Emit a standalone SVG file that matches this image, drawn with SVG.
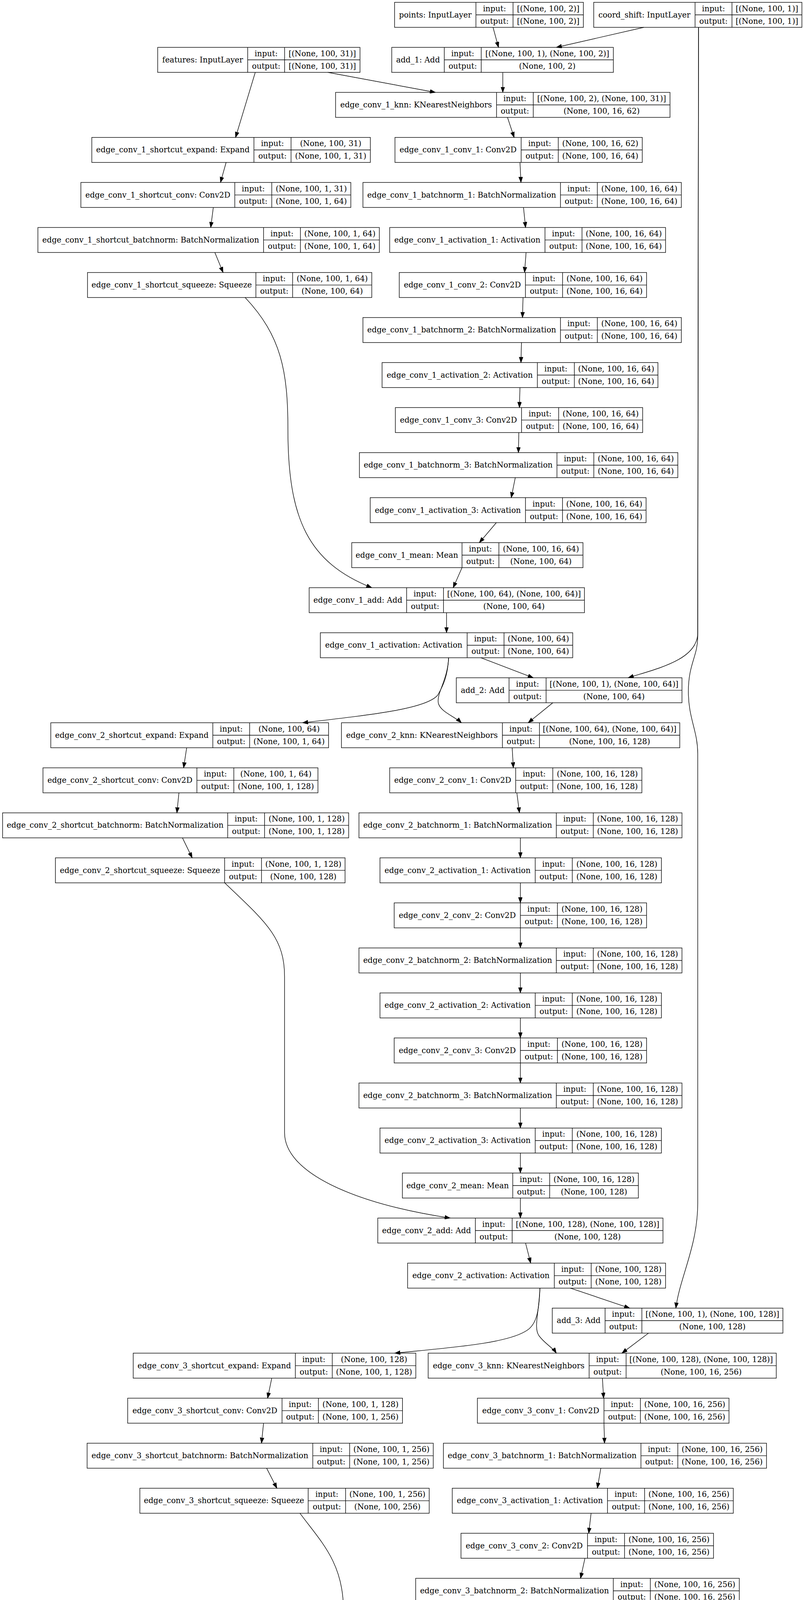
<svg xmlns="http://www.w3.org/2000/svg" width="2058" height="6417" viewBox="0 0 2058 6417">
<style>
.n rect{fill:#fff;stroke:#000;stroke-width:1.4}
.n path{fill:none;stroke:#000;stroke-width:1.4}
text{font-family:"DejaVu Serif",serif;font-size:19.8px;text-anchor:middle;fill:#000}
.e path{fill:none;stroke:#000;stroke-width:1.4;marker-end:url(#ah)}
</style>
<defs>
<marker id="ah" markerUnits="userSpaceOnUse" markerWidth="16" markerHeight="12" refX="14" refY="5" orient="auto"><path d="M0,0L14,5L0,10z" fill="#000" stroke="#000" stroke-width="1"/></marker>
</defs>
<rect width="2058" height="6417" fill="#fff"/>
<g id="nodes">
<g id="points" class="n" transform="translate(0,6)"><rect x="1010" width="483.3" height="64"/><path d="M1218.3,0V64M1313.3,0V64M1218.3,32H1493.3"/><text x="1114.2" y="38.5">points: InputLayer</text><text x="1265.8" y="22.5">input:</text><text x="1265.8" y="54.5">output:</text><text x="1403.3" y="22.5">[(None, 100, 2)]</text><text x="1403.3" y="54.5">[(None, 100, 2)]</text></g>
<g id="coord_shift" class="n" transform="translate(0,6)"><rect x="1519.7" width="532.9" height="64"/><path d="M1779.2,0V64M1873.6,0V64M1779.2,32H2052.6"/><text x="1649.5" y="38.5">coord_shift: InputLayer</text><text x="1826.4" y="22.5">input:</text><text x="1826.4" y="54.5">output:</text><text x="1963.1" y="22.5">[(None, 100, 1)]</text><text x="1963.1" y="54.5">[(None, 100, 1)]</text></g>
<g id="features" class="n" transform="translate(0,121.3)"><rect x="403.6" width="517.9" height="64"/><path d="M634,0V64M728.5,0V64M634,32H921.5"/><text x="518.8" y="38.5">features: InputLayer</text><text x="681.3" y="22.5">input:</text><text x="681.3" y="54.5">output:</text><text x="825" y="22.5">[(None, 100, 31)]</text><text x="825" y="54.5">[(None, 100, 31)]</text></g>
<g id="add_1" class="n" transform="translate(0,121.3)"><rect x="1002.7" width="567.3" height="64"/><path d="M1137.3,0V64M1231.7,0V64M1137.3,32H1570"/><text x="1070" y="38.5">add_1: Add</text><text x="1184.5" y="22.5">input:</text><text x="1184.5" y="54.5">output:</text><text x="1400.9" y="22.5">[(None, 100, 1), (None, 100, 2)]</text><text x="1400.9" y="54.5">(None, 100, 2)</text></g>
<g id="edge_conv_1_knn" class="n" transform="translate(0,236.5)"><rect x="859" width="856" height="64"/><path d="M1271,0V64M1365,0V64M1271,32H1715"/><text x="1065" y="38.5">edge_conv_1_knn: KNearestNeighbors</text><text x="1318" y="22.5">input:</text><text x="1318" y="54.5">output:</text><text x="1540" y="22.5">[(None, 100, 2), (None, 100, 31)]</text><text x="1540" y="54.5">(None, 100, 16, 62)</text></g>
<g id="edge_conv_1_shortcut_expand" class="n" transform="translate(0,351.8)"><rect x="235" width="713" height="64"/><path d="M650,0V64M745,0V64M650,32H948"/><text x="442.5" y="38.5">edge_conv_1_shortcut_expand: Expand</text><text x="697.5" y="22.5">input:</text><text x="697.5" y="54.5">output:</text><text x="846.5" y="22.5">(None, 100, 31)</text><text x="846.5" y="54.5">(None, 100, 1, 31)</text></g>
<g id="edge_conv_1_conv_1" class="n" transform="translate(0,351.8)"><rect x="1011" width="633" height="64"/><path d="M1334,0V64M1429,0V64M1334,32H1644"/><text x="1172.5" y="38.5">edge_conv_1_conv_1: Conv2D</text><text x="1381.5" y="22.5">input:</text><text x="1381.5" y="54.5">output:</text><text x="1536.5" y="22.5">(None, 100, 16, 62)</text><text x="1536.5" y="54.5">(None, 100, 16, 64)</text></g>
<g id="edge_conv_1_shortcut_conv" class="n" transform="translate(0,467.1)"><rect x="207" width="691" height="64"/><path d="M601,0V64M695.6,0V64M601,32H898"/><text x="404" y="38.5">edge_conv_1_shortcut_conv: Conv2D</text><text x="648.3" y="22.5">input:</text><text x="648.3" y="54.5">output:</text><text x="796.8" y="22.5">(None, 100, 1, 31)</text><text x="796.8" y="54.5">(None, 100, 1, 64)</text></g>
<g id="edge_conv_1_batchnorm_1" class="n" transform="translate(0,467.1)"><rect x="929" width="815" height="64"/><path d="M1434.6,0V64M1529,0V64M1434.6,32H1744"/><text x="1181.8" y="38.5">edge_conv_1_batchnorm_1: BatchNormalization</text><text x="1481.8" y="22.5">input:</text><text x="1481.8" y="54.5">output:</text><text x="1636.5" y="22.5">(None, 100, 16, 64)</text><text x="1636.5" y="54.5">(None, 100, 16, 64)</text></g>
<g id="edge_conv_1_shortcut_batchnorm" class="n" transform="translate(0,582.4)"><rect x="97" width="874" height="64"/><path d="M674.6,0V64M769,0V64M674.6,32H971"/><text x="385.8" y="38.5">edge_conv_1_shortcut_batchnorm: BatchNormalization</text><text x="721.8" y="22.5">input:</text><text x="721.8" y="54.5">output:</text><text x="870" y="22.5">(None, 100, 1, 64)</text><text x="870" y="54.5">(None, 100, 1, 64)</text></g>
<g id="edge_conv_1_activation_1" class="n" transform="translate(0,582.4)"><rect x="997.5" width="706.1" height="64"/><path d="M1395,0V64M1489.7,0V64M1395,32H1703.6"/><text x="1196.3" y="38.5">edge_conv_1_activation_1: Activation</text><text x="1442.4" y="22.5">input:</text><text x="1442.4" y="54.5">output:</text><text x="1596.7" y="22.5">(None, 100, 16, 64)</text><text x="1596.7" y="54.5">(None, 100, 16, 64)</text></g>
<g id="edge_conv_1_shortcut_squeeze" class="n" transform="translate(0,697.6)"><rect x="224" width="727.6" height="64"/><path d="M655,0V64M749,0V64M655,32H951.6"/><text x="439.5" y="38.5">edge_conv_1_shortcut_squeeze: Squeeze</text><text x="702" y="22.5">input:</text><text x="702" y="54.5">output:</text><text x="850.3" y="22.5">(None, 100, 1, 64)</text><text x="850.3" y="54.5">(None, 100, 64)</text></g>
<g id="edge_conv_1_conv_2" class="n" transform="translate(0,697.6)"><rect x="1022" width="633" height="64"/><path d="M1345,0V64M1440,0V64M1345,32H1655"/><text x="1183.5" y="38.5">edge_conv_1_conv_2: Conv2D</text><text x="1392.5" y="22.5">input:</text><text x="1392.5" y="54.5">output:</text><text x="1547.5" y="22.5">(None, 100, 16, 64)</text><text x="1547.5" y="54.5">(None, 100, 16, 64)</text></g>
<g id="edge_conv_1_batchnorm_2" class="n" transform="translate(0,812.9)"><rect x="929" width="815" height="64"/><path d="M1434.6,0V64M1529,0V64M1434.6,32H1744"/><text x="1181.8" y="38.5">edge_conv_1_batchnorm_2: BatchNormalization</text><text x="1481.8" y="22.5">input:</text><text x="1481.8" y="54.5">output:</text><text x="1636.5" y="22.5">(None, 100, 16, 64)</text><text x="1636.5" y="54.5">(None, 100, 16, 64)</text></g>
<g id="edge_conv_1_activation_2" class="n" transform="translate(0,928.2)"><rect x="978" width="706.1" height="64"/><path d="M1375.5,0V64M1470.2,0V64M1375.5,32H1684.1"/><text x="1176.8" y="38.5">edge_conv_1_activation_2: Activation</text><text x="1422.9" y="22.5">input:</text><text x="1422.9" y="54.5">output:</text><text x="1577.2" y="22.5">(None, 100, 16, 64)</text><text x="1577.2" y="54.5">(None, 100, 16, 64)</text></g>
<g id="edge_conv_1_conv_3" class="n" transform="translate(0,1043.4)"><rect x="1012" width="633" height="64"/><path d="M1335,0V64M1430,0V64M1335,32H1645"/><text x="1173.5" y="38.5">edge_conv_1_conv_3: Conv2D</text><text x="1382.5" y="22.5">input:</text><text x="1382.5" y="54.5">output:</text><text x="1537.5" y="22.5">(None, 100, 16, 64)</text><text x="1537.5" y="54.5">(None, 100, 16, 64)</text></g>
<g id="edge_conv_1_batchnorm_3" class="n" transform="translate(0,1158.7)"><rect x="920" width="815" height="64"/><path d="M1425.6,0V64M1520,0V64M1425.6,32H1735"/><text x="1172.8" y="38.5">edge_conv_1_batchnorm_3: BatchNormalization</text><text x="1472.8" y="22.5">input:</text><text x="1472.8" y="54.5">output:</text><text x="1627.5" y="22.5">(None, 100, 16, 64)</text><text x="1627.5" y="54.5">(None, 100, 16, 64)</text></g>
<g id="edge_conv_1_activation_3" class="n" transform="translate(0,1274)"><rect x="947.6" width="706.1" height="64"/><path d="M1345.1,0V64M1439.8,0V64M1345.1,32H1653.7"/><text x="1146.4" y="38.5">edge_conv_1_activation_3: Activation</text><text x="1392.5" y="22.5">input:</text><text x="1392.5" y="54.5">output:</text><text x="1546.8" y="22.5">(None, 100, 16, 64)</text><text x="1546.8" y="54.5">(None, 100, 16, 64)</text></g>
<g id="edge_conv_1_mean" class="n" transform="translate(0,1389.2)"><rect x="900.4" width="591.9" height="64"/><path d="M1182.6,0V64M1277,0V64M1182.6,32H1492.3"/><text x="1041.5" y="38.5">edge_conv_1_mean: Mean</text><text x="1229.8" y="22.5">input:</text><text x="1229.8" y="54.5">output:</text><text x="1384.7" y="22.5">(None, 100, 16, 64)</text><text x="1384.7" y="54.5">(None, 100, 64)</text></g>
<g id="edge_conv_1_add" class="n" transform="translate(0,1504.5)"><rect x="791.4" width="704.6" height="64"/><path d="M1040.8,0V64M1135.3,0V64M1040.8,32H1496"/><text x="916.1" y="38.5">edge_conv_1_add: Add</text><text x="1088.1" y="22.5">input:</text><text x="1088.1" y="54.5">output:</text><text x="1315.7" y="22.5">[(None, 100, 64), (None, 100, 64)]</text><text x="1315.7" y="54.5">(None, 100, 64)</text></g>
<g id="edge_conv_1_activation" class="n" transform="translate(0,1619.8)"><rect x="820" width="646" height="64"/><path d="M1195.7,0V64M1290.2,0V64M1195.7,32H1466"/><text x="1007.9" y="38.5">edge_conv_1_activation: Activation</text><text x="1243" y="22.5">input:</text><text x="1243" y="54.5">output:</text><text x="1378.1" y="22.5">(None, 100, 64)</text><text x="1378.1" y="54.5">(None, 100, 64)</text></g>
<g id="add_2" class="n" transform="translate(0,1735.1)"><rect x="1168" width="577.6" height="64"/><path d="M1303,0V64M1397.8,0V64M1303,32H1745.6"/><text x="1235.5" y="38.5">add_2: Add</text><text x="1350.4" y="22.5">input:</text><text x="1350.4" y="54.5">output:</text><text x="1571.7" y="22.5">[(None, 100, 1), (None, 100, 64)]</text><text x="1571.7" y="54.5">(None, 100, 64)</text></g>
<g id="edge_conv_2_shortcut_expand" class="n" transform="translate(0,1850.3)"><rect x="130" width="711" height="64"/><path d="M544.7,0V64M639,0V64M544.7,32H841"/><text x="337.4" y="38.5">edge_conv_2_shortcut_expand: Expand</text><text x="591.9" y="22.5">input:</text><text x="591.9" y="54.5">output:</text><text x="740" y="22.5">(None, 100, 64)</text><text x="740" y="54.5">(None, 100, 1, 64)</text></g>
<g id="edge_conv_2_knn" class="n" transform="translate(0,1850.3)"><rect x="874" width="866" height="64"/><path d="M1286,0V64M1380.8,0V64M1286,32H1740"/><text x="1080" y="38.5">edge_conv_2_knn: KNearestNeighbors</text><text x="1333.4" y="22.5">input:</text><text x="1333.4" y="54.5">output:</text><text x="1560.4" y="22.5">[(None, 100, 64), (None, 100, 64)]</text><text x="1560.4" y="54.5">(None, 100, 16, 128)</text></g>
<g id="edge_conv_2_shortcut_conv" class="n" transform="translate(0,1965.6)"><rect x="110" width="703.8" height="64"/><path d="M504,0V64M598.5,0V64M504,32H813.8"/><text x="307" y="38.5">edge_conv_2_shortcut_conv: Conv2D</text><text x="551.3" y="22.5">input:</text><text x="551.3" y="54.5">output:</text><text x="706.2" y="22.5">(None, 100, 1, 64)</text><text x="706.2" y="54.5">(None, 100, 1, 128)</text></g>
<g id="edge_conv_2_conv_1" class="n" transform="translate(0,1965.6)"><rect x="997.5" width="645.5" height="64"/><path d="M1320,0V64M1415,0V64M1320,32H1643"/><text x="1158.8" y="38.5">edge_conv_2_conv_1: Conv2D</text><text x="1367.5" y="22.5">input:</text><text x="1367.5" y="54.5">output:</text><text x="1529" y="22.5">(None, 100, 16, 128)</text><text x="1529" y="54.5">(None, 100, 16, 128)</text></g>
<g id="edge_conv_2_shortcut_batchnorm" class="n" transform="translate(0,2080.9)"><rect x="6.6" width="885.9" height="64"/><path d="M582.8,0V64M677.3,0V64M582.8,32H892.5"/><text x="294.7" y="38.5">edge_conv_2_shortcut_batchnorm: BatchNormalization</text><text x="630.1" y="22.5">input:</text><text x="630.1" y="54.5">output:</text><text x="784.9" y="22.5">(None, 100, 1, 128)</text><text x="784.9" y="54.5">(None, 100, 1, 128)</text></g>
<g id="edge_conv_2_batchnorm_1" class="n" transform="translate(0,2080.9)"><rect x="918.8" width="826.8" height="64"/><path d="M1424,0V64M1518.6,0V64M1424,32H1745.6"/><text x="1171.4" y="38.5">edge_conv_2_batchnorm_1: BatchNormalization</text><text x="1471.3" y="22.5">input:</text><text x="1471.3" y="54.5">output:</text><text x="1632.1" y="22.5">(None, 100, 16, 128)</text><text x="1632.1" y="54.5">(None, 100, 16, 128)</text></g>
<g id="edge_conv_2_shortcut_squeeze" class="n" transform="translate(0,2196.1)"><rect x="141.8" width="741.5" height="64"/><path d="M575,0V64M669.4,0V64M575,32H883.3"/><text x="358.4" y="38.5">edge_conv_2_shortcut_squeeze: Squeeze</text><text x="622.2" y="22.5">input:</text><text x="622.2" y="54.5">output:</text><text x="776.4" y="22.5">(None, 100, 1, 128)</text><text x="776.4" y="54.5">(None, 100, 128)</text></g>
<g id="edge_conv_2_activation_1" class="n" transform="translate(0,2196.1)"><rect x="972.6" width="720.4" height="64"/><path d="M1370,0V64M1464.8,0V64M1370,32H1693"/><text x="1171.3" y="38.5">edge_conv_2_activation_1: Activation</text><text x="1417.4" y="22.5">input:</text><text x="1417.4" y="54.5">output:</text><text x="1578.9" y="22.5">(None, 100, 16, 128)</text><text x="1578.9" y="54.5">(None, 100, 16, 128)</text></g>
<g id="edge_conv_2_conv_2" class="n" transform="translate(0,2311.4)"><rect x="1009" width="646" height="64"/><path d="M1332,0V64M1426.7,0V64M1332,32H1655"/><text x="1170.5" y="38.5">edge_conv_2_conv_2: Conv2D</text><text x="1379.4" y="22.5">input:</text><text x="1379.4" y="54.5">output:</text><text x="1540.9" y="22.5">(None, 100, 16, 128)</text><text x="1540.9" y="54.5">(None, 100, 16, 128)</text></g>
<g id="edge_conv_2_batchnorm_2" class="n" transform="translate(0,2426.7)"><rect x="918.8" width="826.8" height="64"/><path d="M1424,0V64M1518.6,0V64M1424,32H1745.6"/><text x="1171.4" y="38.5">edge_conv_2_batchnorm_2: BatchNormalization</text><text x="1471.3" y="22.5">input:</text><text x="1471.3" y="54.5">output:</text><text x="1632.1" y="22.5">(None, 100, 16, 128)</text><text x="1632.1" y="54.5">(None, 100, 16, 128)</text></g>
<g id="edge_conv_2_activation_2" class="n" transform="translate(0,2541.9)"><rect x="972.6" width="720.4" height="64"/><path d="M1370,0V64M1464.8,0V64M1370,32H1693"/><text x="1171.3" y="38.5">edge_conv_2_activation_2: Activation</text><text x="1417.4" y="22.5">input:</text><text x="1417.4" y="54.5">output:</text><text x="1578.9" y="22.5">(None, 100, 16, 128)</text><text x="1578.9" y="54.5">(None, 100, 16, 128)</text></g>
<g id="edge_conv_2_conv_3" class="n" transform="translate(0,2657.2)"><rect x="1009" width="646" height="64"/><path d="M1332,0V64M1426.7,0V64M1332,32H1655"/><text x="1170.5" y="38.5">edge_conv_2_conv_3: Conv2D</text><text x="1379.4" y="22.5">input:</text><text x="1379.4" y="54.5">output:</text><text x="1540.9" y="22.5">(None, 100, 16, 128)</text><text x="1540.9" y="54.5">(None, 100, 16, 128)</text></g>
<g id="edge_conv_2_batchnorm_3" class="n" transform="translate(0,2772.5)"><rect x="918.8" width="826.8" height="64"/><path d="M1424,0V64M1518.6,0V64M1424,32H1745.6"/><text x="1171.4" y="38.5">edge_conv_2_batchnorm_3: BatchNormalization</text><text x="1471.3" y="22.5">input:</text><text x="1471.3" y="54.5">output:</text><text x="1632.1" y="22.5">(None, 100, 16, 128)</text><text x="1632.1" y="54.5">(None, 100, 16, 128)</text></g>
<g id="edge_conv_2_activation_3" class="n" transform="translate(0,2887.8)"><rect x="972.6" width="720.4" height="64"/><path d="M1370,0V64M1464.8,0V64M1370,32H1693"/><text x="1171.3" y="38.5">edge_conv_2_activation_3: Activation</text><text x="1417.4" y="22.5">input:</text><text x="1417.4" y="54.5">output:</text><text x="1578.9" y="22.5">(None, 100, 16, 128)</text><text x="1578.9" y="54.5">(None, 100, 16, 128)</text></g>
<g id="edge_conv_2_mean" class="n" transform="translate(0,3003)"><rect x="1030" width="604" height="64"/><path d="M1312.5,0V64M1407,0V64M1312.5,32H1634"/><text x="1171.3" y="38.5">edge_conv_2_mean: Mean</text><text x="1359.8" y="22.5">input:</text><text x="1359.8" y="54.5">output:</text><text x="1520.5" y="22.5">(None, 100, 16, 128)</text><text x="1520.5" y="54.5">(None, 100, 128)</text></g>
<g id="edge_conv_2_add" class="n" transform="translate(0,3118.3)"><rect x="967" width="730" height="64"/><path d="M1216.7,0V64M1311,0V64M1216.7,32H1697"/><text x="1091.9" y="38.5">edge_conv_2_add: Add</text><text x="1263.9" y="22.5">input:</text><text x="1263.9" y="54.5">output:</text><text x="1504" y="22.5">[(None, 100, 128), (None, 100, 128)]</text><text x="1504" y="54.5">(None, 100, 128)</text></g>
<g id="edge_conv_2_activation" class="n" transform="translate(0,3233.6)"><rect x="1043.4" width="660.2" height="64"/><path d="M1418.8,0V64M1513.3,0V64M1418.8,32H1703.6"/><text x="1231.1" y="38.5">edge_conv_2_activation: Activation</text><text x="1466.1" y="22.5">input:</text><text x="1466.1" y="54.5">output:</text><text x="1608.5" y="22.5">(None, 100, 128)</text><text x="1608.5" y="54.5">(None, 100, 128)</text></g>
<g id="add_3" class="n" transform="translate(0,3348.8)"><rect x="1413.6" width="590.4" height="64"/><path d="M1548.8,0V64M1643,0V64M1548.8,32H2004"/><text x="1481.2" y="38.5">add_3: Add</text><text x="1595.9" y="22.5">input:</text><text x="1595.9" y="54.5">output:</text><text x="1823.5" y="22.5">[(None, 100, 1), (None, 100, 128)]</text><text x="1823.5" y="54.5">(None, 100, 128)</text></g>
<g id="edge_conv_3_shortcut_expand" class="n" transform="translate(0,3464.1)"><rect x="341" width="723.4" height="64"/><path d="M756,0V64M850.5,0V64M756,32H1064.4"/><text x="548.5" y="38.5">edge_conv_3_shortcut_expand: Expand</text><text x="803.3" y="22.5">input:</text><text x="803.3" y="54.5">output:</text><text x="957.5" y="22.5">(None, 100, 128)</text><text x="957.5" y="54.5">(None, 100, 1, 128)</text></g>
<g id="edge_conv_3_knn" class="n" transform="translate(0,3464.1)"><rect x="1096" width="891" height="64"/><path d="M1508,0V64M1602.6,0V64M1508,32H1987"/><text x="1302" y="38.5">edge_conv_3_knn: KNearestNeighbors</text><text x="1555.3" y="22.5">input:</text><text x="1555.3" y="54.5">output:</text><text x="1794.8" y="22.5">[(None, 100, 128), (None, 100, 128)]</text><text x="1794.8" y="54.5">(None, 100, 16, 256)</text></g>
<g id="edge_conv_3_shortcut_conv" class="n" transform="translate(0,3579.4)"><rect x="326.8" width="703.5" height="64"/><path d="M721.9,0V64M815,0V64M721.9,32H1030.3"/><text x="524.4" y="38.5">edge_conv_3_shortcut_conv: Conv2D</text><text x="768.5" y="22.5">input:</text><text x="768.5" y="54.5">output:</text><text x="922.7" y="22.5">(None, 100, 1, 128)</text><text x="922.7" y="54.5">(None, 100, 1, 256)</text></g>
<g id="edge_conv_3_conv_1" class="n" transform="translate(0,3579.4)"><rect x="1222" width="644" height="64"/><path d="M1546,0V64M1639.3,0V64M1546,32H1866"/><text x="1384" y="38.5">edge_conv_3_conv_1: Conv2D</text><text x="1592.7" y="22.5">input:</text><text x="1592.7" y="54.5">output:</text><text x="1752.7" y="22.5">(None, 100, 16, 256)</text><text x="1752.7" y="54.5">(None, 100, 16, 256)</text></g>
<g id="edge_conv_3_shortcut_batchnorm" class="n" transform="translate(0,3694.6)"><rect x="223" width="886" height="64"/><path d="M800.6,0V64M895,0V64M800.6,32H1109"/><text x="511.8" y="38.5">edge_conv_3_shortcut_batchnorm: BatchNormalization</text><text x="847.8" y="22.5">input:</text><text x="847.8" y="54.5">output:</text><text x="1002" y="22.5">(None, 100, 1, 256)</text><text x="1002" y="54.5">(None, 100, 1, 256)</text></g>
<g id="edge_conv_3_batchnorm_1" class="n" transform="translate(0,3694.6)"><rect x="1135" width="827" height="64"/><path d="M1640.6,0V64M1735,0V64M1640.6,32H1962"/><text x="1387.8" y="38.5">edge_conv_3_batchnorm_1: BatchNormalization</text><text x="1687.8" y="22.5">input:</text><text x="1687.8" y="54.5">output:</text><text x="1848.5" y="22.5">(None, 100, 16, 256)</text><text x="1848.5" y="54.5">(None, 100, 16, 256)</text></g>
<g id="edge_conv_3_shortcut_squeeze" class="n" transform="translate(0,3809.9)"><rect x="358" width="740.6" height="64"/><path d="M788.8,0V64M884.6,0V64M788.8,32H1098.6"/><text x="573.4" y="38.5">edge_conv_3_shortcut_squeeze: Squeeze</text><text x="836.7" y="22.5">input:</text><text x="836.7" y="54.5">output:</text><text x="991.6" y="22.5">(None, 100, 1, 256)</text><text x="991.6" y="54.5">(None, 100, 256)</text></g>
<g id="edge_conv_3_activation_1" class="n" transform="translate(0,3809.9)"><rect x="1157.6" width="719.4" height="64"/><path d="M1555,0V64M1650,0V64M1555,32H1877"/><text x="1356.3" y="38.5">edge_conv_3_activation_1: Activation</text><text x="1602.5" y="22.5">input:</text><text x="1602.5" y="54.5">output:</text><text x="1763.5" y="22.5">(None, 100, 16, 256)</text><text x="1763.5" y="54.5">(None, 100, 16, 256)</text></g>
<g id="edge_conv_3_conv_2" class="n" transform="translate(0,3925.2)"><rect x="1180" width="646.4" height="64"/><path d="M1503.8,0V64M1598.6,0V64M1503.8,32H1826.4"/><text x="1341.9" y="38.5">edge_conv_3_conv_2: Conv2D</text><text x="1551.2" y="22.5">input:</text><text x="1551.2" y="54.5">output:</text><text x="1712.5" y="22.5">(None, 100, 16, 256)</text><text x="1712.5" y="54.5">(None, 100, 16, 256)</text></g>
<g id="edge_conv_3_batchnorm_2" class="n" transform="translate(0,4040.5)"><rect x="1064" width="828.4" height="64"/><path d="M1569.8,0V64M1664.6,0V64M1569.8,32H1892.4"/><text x="1316.9" y="38.5">edge_conv_3_batchnorm_2: BatchNormalization</text><text x="1617.2" y="22.5">input:</text><text x="1617.2" y="54.5">output:</text><text x="1778.5" y="22.5">(None, 100, 16, 256)</text><text x="1778.5" y="54.5">(None, 100, 16, 256)</text></g>
<g id="edge_conv_3_activation_2" class="n" transform="translate(0,4155.7)"><rect x="1099.3" width="719.7" height="64"/><path d="M1497,0V64M1592,0V64M1497,32H1819"/><text x="1298.2" y="38.5">edge_conv_3_activation_2: Activation</text><text x="1544.5" y="22.5">input:</text><text x="1544.5" y="54.5">output:</text><text x="1705.5" y="22.5">(None, 100, 16, 256)</text><text x="1705.5" y="54.5">(None, 100, 16, 256)</text></g>
<g id="edge_conv_3_conv_3" class="n" transform="translate(0,4271)"><rect x="1099.3" width="643.4" height="64"/><path d="M1422,0V64M1516.8,0V64M1422,32H1742.7"/><text x="1260.7" y="38.5">edge_conv_3_conv_3: Conv2D</text><text x="1469.4" y="22.5">input:</text><text x="1469.4" y="54.5">output:</text><text x="1629.8" y="22.5">(None, 100, 16, 256)</text><text x="1629.8" y="54.5">(None, 100, 16, 256)</text></g>
<g id="edge_conv_3_batchnorm_3" class="n" transform="translate(0,4386.3)"><rect x="995" width="826.7" height="64"/><path d="M1500,0V64M1595,0V64M1500,32H1821.7"/><text x="1247.5" y="38.5">edge_conv_3_batchnorm_3: BatchNormalization</text><text x="1547.5" y="22.5">input:</text><text x="1547.5" y="54.5">output:</text><text x="1708.4" y="22.5">(None, 100, 16, 256)</text><text x="1708.4" y="54.5">(None, 100, 16, 256)</text></g>
<g id="edge_conv_3_activation_3" class="n" transform="translate(0,4501.5)"><rect x="946" width="719.8" height="64"/><path d="M1344,0V64M1438.5,0V64M1344,32H1665.8"/><text x="1145" y="38.5">edge_conv_3_activation_3: Activation</text><text x="1391.3" y="22.5">input:</text><text x="1391.3" y="54.5">output:</text><text x="1552.2" y="22.5">(None, 100, 16, 256)</text><text x="1552.2" y="54.5">(None, 100, 16, 256)</text></g>
<g id="edge_conv_3_mean" class="n" transform="translate(0,4616.8)"><rect x="947" width="606" height="64"/><path d="M1231,0V64M1325,0V64M1231,32H1553"/><text x="1089" y="38.5">edge_conv_3_mean: Mean</text><text x="1278" y="22.5">input:</text><text x="1278" y="54.5">output:</text><text x="1439" y="22.5">(None, 100, 16, 256)</text><text x="1439" y="54.5">(None, 100, 256)</text></g>
<g id="edge_conv_3_add" class="n" transform="translate(0,4732.1)"><rect x="684.6" width="730.9" height="64"/><path d="M934.7,0V64M1029,0V64M934.7,32H1415.5"/><text x="809.7" y="38.5">edge_conv_3_add: Add</text><text x="981.9" y="22.5">input:</text><text x="981.9" y="54.5">output:</text><text x="1222.3" y="22.5">[(None, 100, 256), (None, 100, 256)]</text><text x="1222.3" y="54.5">(None, 100, 256)</text></g>
<g id="edge_conv_3_activation" class="n" transform="translate(0,4847.3)"><rect x="721" width="659" height="64"/><path d="M1096,0V64M1189.5,0V64M1096,32H1380"/><text x="908.5" y="38.5">edge_conv_3_activation: Activation</text><text x="1142.8" y="22.5">input:</text><text x="1142.8" y="54.5">output:</text><text x="1284.8" y="22.5">(None, 100, 256)</text><text x="1284.8" y="54.5">(None, 100, 256)</text></g>
<g id="mask" class="n" transform="translate(0,4847.3)"><rect x="1406" width="475" height="64"/><path d="M1606,0V64M1700,0V64M1606,32H1881"/><text x="1506" y="38.5">mask: InputLayer</text><text x="1653" y="22.5">input:</text><text x="1653" y="54.5">output:</text><text x="1790.5" y="22.5">[(None, 100, 1)]</text><text x="1790.5" y="54.5">[(None, 100, 1)]</text></g>
<g id="multiply" class="n" transform="translate(0,4962.6)"><rect x="1018.4" width="656.6" height="64"/><path d="M1219.3,0V64M1312.6,0V64M1219.3,32H1675"/><text x="1118.9" y="38.5">multiply: Multiply</text><text x="1266" y="22.5">input:</text><text x="1266" y="54.5">output:</text><text x="1493.8" y="22.5">[(None, 100, 256), (None, 100, 1)]</text><text x="1493.8" y="54.5">(None, 100, 256)</text></g>
<g id="mean" class="n" transform="translate(0,5077.9)"><rect x="1131.8" width="429.2" height="64"/><path d="M1276.4,0V64M1370.3,0V64M1276.4,32H1561"/><text x="1204.1" y="38.5">mean: Mean</text><text x="1323.4" y="22.5">input:</text><text x="1323.4" y="54.5">output:</text><text x="1465.7" y="22.5">(None, 100, 256)</text><text x="1465.7" y="54.5">(None, 256)</text></g>
<g id="globals" class="n" transform="translate(0,5077.9)"><rect x="1586.3" width="455.2" height="64"/><path d="M1805.3,0V64M1899,0V64M1805.3,32H2041.5"/><text x="1695.8" y="38.5">globals: InputLayer</text><text x="1852.2" y="22.5">input:</text><text x="1852.2" y="54.5">output:</text><text x="1970.3" y="22.5">[(None, 24)]</text><text x="1970.3" y="54.5">[(None, 24)]</text></g>
<g id="head" class="n" transform="translate(0,5193.2)"><rect x="1290.7" width="577.3" height="64"/><path d="M1500.4,0V64M1595,0V64M1500.4,32H1868"/><text x="1395.6" y="38.5">head: Concatenate</text><text x="1547.7" y="22.5">input:</text><text x="1547.7" y="54.5">output:</text><text x="1731.5" y="22.5">[(None, 256), (None, 24)]</text><text x="1731.5" y="54.5">(None, 280)</text></g>
<g id="dense" class="n" transform="translate(0,5308.4)"><rect x="1384.5" width="389.9" height="64"/><path d="M1540.3,0V64M1634.8,0V64M1540.3,32H1774.4"/><text x="1462.4" y="38.5">dense: Dense</text><text x="1587.6" y="22.5">input:</text><text x="1587.6" y="54.5">output:</text><text x="1704.6" y="22.5">(None, 280)</text><text x="1704.6" y="54.5">(None, 256)</text></g>
<g id="activation" class="n" transform="translate(0,5423.7)"><rect x="1344.6" width="470.4" height="64"/><path d="M1580,0V64M1674.7,0V64M1580,32H1815"/><text x="1462.3" y="38.5">activation: Activation</text><text x="1627.4" y="22.5">input:</text><text x="1627.4" y="54.5">output:</text><text x="1744.9" y="22.5">(None, 256)</text><text x="1744.9" y="54.5">(None, 256)</text></g>
<g id="dropout" class="n" transform="translate(0,5539)"><rect x="1365" width="429.3" height="64"/><path d="M1559.5,0V64M1654,0V64M1559.5,32H1794.3"/><text x="1462.3" y="38.5">dropout: Dropout</text><text x="1606.8" y="22.5">input:</text><text x="1606.8" y="54.5">output:</text><text x="1724.2" y="22.5">(None, 256)</text><text x="1724.2" y="54.5">(None, 256)</text></g>
<g id="dense_1" class="n" transform="translate(0,5654.2)"><rect x="1373.5" width="412.5" height="64"/><path d="M1551.2,0V64M1645.7,0V64M1551.2,32H1786"/><text x="1462.4" y="38.5">dense_1: Dense</text><text x="1598.5" y="22.5">input:</text><text x="1598.5" y="54.5">output:</text><text x="1715.9" y="22.5">(None, 256)</text><text x="1715.9" y="54.5">(None, 128)</text></g>
<g id="activation_1" class="n" transform="translate(0,5769.5)"><rect x="1332.7" width="494.3" height="64"/><path d="M1591.8,0V64M1686.7,0V64M1591.8,32H1827"/><text x="1462.3" y="38.5">activation_1: Activation</text><text x="1639.3" y="22.5">input:</text><text x="1639.3" y="54.5">output:</text><text x="1756.9" y="22.5">(None, 128)</text><text x="1756.9" y="54.5">(None, 128)</text></g>
<g id="dropout_1" class="n" transform="translate(0,5884.8)"><rect x="1353.6" width="452.4" height="64"/><path d="M1571,0V64M1665.5,0V64M1571,32H1806"/><text x="1462.3" y="38.5">dropout_1: Dropout</text><text x="1618.3" y="22.5">input:</text><text x="1618.3" y="54.5">output:</text><text x="1735.8" y="22.5">(None, 128)</text><text x="1735.8" y="54.5">(None, 128)</text></g>
<g id="dense_2" class="n" transform="translate(0,6000)"><rect x="1373.5" width="412.5" height="64"/><path d="M1551.2,0V64M1645.7,0V64M1551.2,32H1786"/><text x="1462.4" y="38.5">dense_2: Dense</text><text x="1598.5" y="22.5">input:</text><text x="1598.5" y="54.5">output:</text><text x="1715.9" y="22.5">(None, 128)</text><text x="1715.9" y="54.5">(None, 64)</text></g>
<g id="activation_2" class="n" transform="translate(0,6115.3)"><rect x="1338.3" width="482.1" height="64"/><path d="M1598,0V64M1692.5,0V64M1598,32H1820.4"/><text x="1468.2" y="38.5">activation_2: Activation</text><text x="1645.3" y="22.5">input:</text><text x="1645.3" y="54.5">output:</text><text x="1756.5" y="22.5">(None, 64)</text><text x="1756.5" y="54.5">(None, 64)</text></g>
<g id="dropout_2" class="n" transform="translate(0,6230.6)"><rect x="1359.7" width="439.8" height="64"/><path d="M1577.6,0V64M1672,0V64M1577.6,32H1799.5"/><text x="1468.7" y="38.5">dropout_2: Dropout</text><text x="1624.8" y="22.5">input:</text><text x="1624.8" y="54.5">output:</text><text x="1735.8" y="22.5">(None, 64)</text><text x="1735.8" y="54.5">(None, 64)</text></g>
<g id="out" class="n" transform="translate(0,6345.9)"><rect x="1404" width="351" height="64"/><path d="M1533,0V64M1627.5,0V64M1533,32H1755"/><text x="1468.5" y="38.5">out: Dense</text><text x="1580.3" y="22.5">input:</text><text x="1580.3" y="54.5">output:</text><text x="1691.3" y="22.5">(None, 64)</text><text x="1691.3" y="54.5">(None, 1)</text></g>
</g>
<g id="connectors" class="e">
<path d="M1262,70L1276,121.3"/>
<path d="M1648,70L1424,121.3"/>
<path d="M1788,70L1786,1620C1786,1690 1680,1712 1608,1735.1"/>
<path d="M1788,70L1786,1630C1786,1680 1762,1700 1762,1770C1762,1840 1786,1870 1786,1930L1786,3080C1786,3190 1740,3270 1730,3348.8"/>
<path d="M839,185.3L1114.5,236.5"/>
<path d="M653.4,185.3L603,351.8"/>
<path d="M1287,185.3L1287,236.5"/>
<path d="M1299,300.5L1316,351.8"/>
<path d="M578.8,415.8L564.4,467.1"/>
<path d="M1331,415.8L1333.5,467.1"/>
<path d="M546,531.1L539.4,582.4"/>
<path d="M1340,531.1L1345.3,582.4"/>
<path d="M550,646.4L571,697.6"/>
<path d="M1346.6,646.4L1342.7,697.6"/>
<path d="M1338.8,761.6L1337.4,812.9"/>
<path d="M1334.8,876.9L1333.5,928.2"/>
<path d="M1330.9,992.2L1329.6,1043.4"/>
<path d="M1328,1107.4L1327,1158.7"/>
<path d="M1319,1222.7L1308.6,1274"/>
<path d="M1270.5,1338L1227,1389.2"/>
<path d="M627.4,761.6C720,860 737,950 737,1100C737,1330 790,1440 951.6,1504.5"/>
<path d="M1182.6,1453.2L1160,1504.5"/>
<path d="M1143,1568.5L1143,1619.8"/>
<path d="M1231,1683.8L1365,1735.1"/>
<path d="M1148.4,1683.8C1146,1730 1135,1755 1120,1780C1090,1815 950,1830 774.4,1850.3"/>
<path d="M1148.4,1683.8C1146,1740 1117,1775 1122,1800C1127,1822 1165,1835 1181,1850.3"/>
<path d="M1415,1799.1L1352,1850.3"/>
<path d="M477.8,1914.3L470,1965.6"/>
<path d="M1311,1914.3L1314,1965.6"/>
<path d="M458,2029.6L452.8,2080.9"/>
<path d="M1323,2029.6L1329.6,2080.9"/>
<path d="M467,2144.9L492,2196.1"/>
<path d="M1332,2144.9L1332,2196.1"/>
<path d="M1332,2260.1L1332,2311.4"/>
<path d="M1332,2375.4L1332,2426.7"/>
<path d="M1332,2490.7L1332,2541.9"/>
<path d="M1332,2605.9L1332,2657.2"/>
<path d="M1332,2721.2L1332,2772.5"/>
<path d="M1332,2836.5L1332,2887.8"/>
<path d="M1332,2951.8L1332,3003"/>
<path d="M1332,3067L1332,3118.3"/>
<path d="M575,2260.1C680,2360 728.4,2400 728.4,2500L728.4,2900C728.4,3000 900,3080 1152.4,3118.3"/>
<path d="M1345.3,3182.3L1358.4,3233.6"/>
<path d="M1460,3297.6L1611.8,3348.8"/>
<path d="M1382,3297.6C1380,3360 1372,3390 1350,3405C1300,3440 1150,3450 1010.6,3464.1"/>
<path d="M1382,3297.6C1380,3360 1365,3400 1380,3420C1395,3440 1415,3450 1424,3464.1"/>
<path d="M1660,3412.8L1592,3464.1"/>
<path d="M695.6,3528.1L685,3579.4"/>
<path d="M1542,3528.1L1545,3579.4"/>
<path d="M674.6,3643.4L669.4,3694.6"/>
<path d="M1546,3643.4L1547.4,3694.6"/>
<path d="M682.5,3758.6L708.8,3809.9"/>
<path d="M1538,3758.6L1529,3809.9"/>
<path d="M1513,3873.9L1507,3925.2"/>
<path d="M1497.3,3989.2L1486,4040.5"/>
<path d="M1472,4104.5L1465.6,4155.7"/>
<path d="M1447,4219.7L1435,4271"/>
<path d="M1418,4335L1412.6,4386.3"/>
<path d="M1379,4450.3L1337.3,4501.5"/>
<path d="M1289.5,4565.5L1267.4,4616.8"/>
<path d="M1194.3,4680.8L1107.8,4732.1"/>
<path d="M767.8,3873.9C820,3945 879,4000 879,4120L879,4550C879,4640 930,4695 987.6,4732.1"/>
<path d="M1050,4796.1L1050,4847.3"/>
<path d="M1133.8,4911.3L1259.7,4962.6"/>
<path d="M1559.8,4911.3L1434.8,4962.6"/>
<path d="M1346.3,5026.6L1346.3,5077.9"/>
<path d="M1411.8,5141.9L1511.5,5193.2"/>
<path d="M1747.8,5141.9L1648,5193.2"/>
<path d="M1579.5,5257.2L1579.5,5308.4"/>
<path d="M1579.5,5372.4L1579.5,5423.7"/>
<path d="M1579.5,5487.7L1579.5,5539"/>
<path d="M1579.5,5603L1579.5,5654.2"/>
<path d="M1579.5,5718.2L1579.5,5769.5"/>
<path d="M1579.5,5833.5L1579.5,5884.8"/>
<path d="M1579.5,5948.8L1579.5,6000"/>
<path d="M1579.5,6064L1579.5,6115.3"/>
<path d="M1579.5,6179.3L1579.5,6230.6"/>
<path d="M1579.5,6294.6L1579.5,6345.9"/>
</g>
</svg>
